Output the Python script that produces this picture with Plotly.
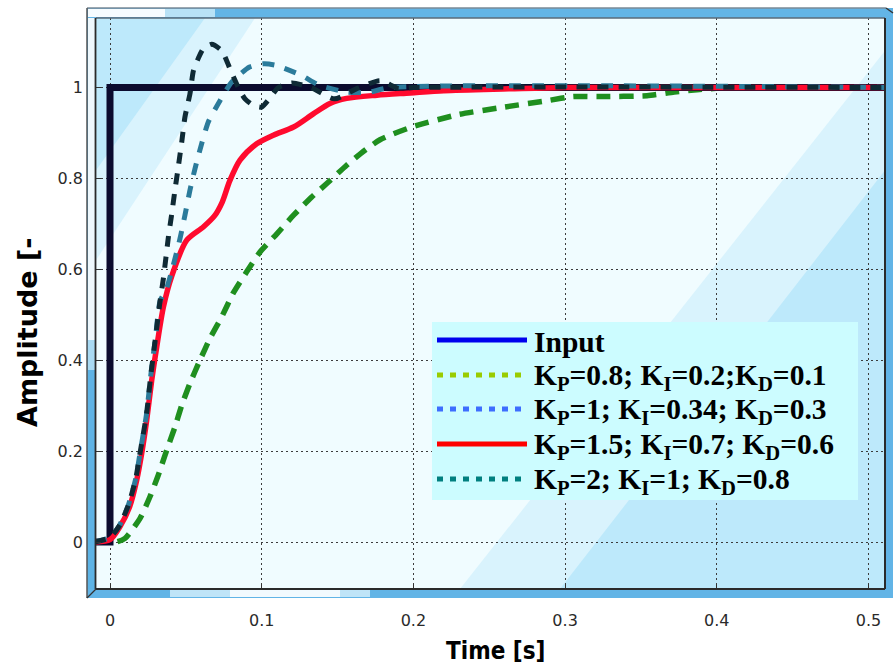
import plotly.graph_objects as go

# ---------------- data ----------------
t_input = [-0.01, 0.0, 0.0, 0.52]
y_input = [0.0, 0.0, 1.0, 1.0]

t_kp08 = [-0.01, 0.004, 0.0099, 0.0198, 0.0264, 0.0318, 0.0374, 0.0428, 0.0473, 0.0527,
          0.0593, 0.0659, 0.0736, 0.0813, 0.09, 0.0989, 0.11, 0.121, 0.133, 0.144, 0.156,
          0.165, 0.178, 0.198, 0.229, 0.26, 0.29, 0.305, 0.323, 0.354, 0.372, 0.387, 0.41, 0.52]
y_kp08 = [0.0, 0.0, 0.008, 0.052, 0.1, 0.147, 0.202, 0.253, 0.301, 0.349,
          0.4, 0.448, 0.495, 0.548, 0.594, 0.638, 0.678, 0.719, 0.759, 0.792, 0.829,
          0.854, 0.885, 0.912, 0.94, 0.957, 0.972, 0.98, 0.98, 0.982, 0.99, 0.995, 1.0, 1.0]

t_kp15 = [-0.01, 0.0, 0.0066, 0.013, 0.0176, 0.0209, 0.0242, 0.0275, 0.0308, 0.0352, 0.0407,
          0.0506, 0.0615, 0.0690, 0.0740, 0.0790, 0.0857, 0.0967, 0.1077, 0.121, 0.134, 0.145,
          0.156, 0.176, 0.198, 0.22, 0.263, 0.3, 0.52]
y_kp15 = [0.0, 0.005, 0.034, 0.078, 0.136, 0.195, 0.268, 0.356, 0.429, 0.517, 0.585,
          0.664, 0.693, 0.718, 0.748, 0.795, 0.84, 0.876, 0.895, 0.913, 0.942, 0.965,
          0.976, 0.983, 0.988, 0.993, 0.997, 1.0, 1.0]

t_kp1 = [-0.01, 0.0, 0.006, 0.012, 0.017, 0.02, 0.024, 0.027, 0.03, 0.033, 0.037, 0.041,
         0.0461, 0.0494, 0.0527, 0.056, 0.0604, 0.0648, 0.0725, 0.0802, 0.092, 0.101, 0.109,
         0.126, 0.138, 0.156, 0.171, 0.185, 0.52]
y_kp1 = [0.0, 0.01, 0.035, 0.08, 0.14, 0.2, 0.28, 0.37, 0.45, 0.53, 0.555, 0.6,
         0.667, 0.719, 0.774, 0.821, 0.876, 0.924, 0.971, 1.012, 1.045, 1.052, 1.049,
         1.027, 1.005, 0.99, 0.99, 1.0, 1.0]

t_kp2 = [-0.01, 0.0, 0.006, 0.012, 0.017, 0.02, 0.024, 0.027, 0.03, 0.033, 0.0352, 0.0385,
         0.0407, 0.0428, 0.045, 0.0473, 0.0494, 0.0527, 0.055, 0.0583, 0.0615, 0.067, 0.0736,
         0.08, 0.0846, 0.089, 0.095, 0.1, 0.105, 0.111, 0.12, 0.133, 0.148, 0.163, 0.178,
         0.19, 0.2, 0.52]
y_kp2 = [0.0, 0.01, 0.035, 0.08, 0.14, 0.2, 0.28, 0.37, 0.45, 0.53, 0.58, 0.671,
         0.722, 0.774, 0.825, 0.88, 0.935, 0.986, 1.037, 1.065, 1.085, 1.095, 1.081,
         1.034, 1.0, 0.975, 0.96, 0.957, 0.975, 1.0, 1.01, 0.999, 0.975, 0.998, 1.015,
         0.998, 1.0, 1.0]

x_ticks = [0, 0.1, 0.2, 0.3, 0.4, 0.5]
x_tick_labels = ["0", "0.1", "0.2", "0.3", "0.4", "0.5"]
y_ticks = [0, 0.2, 0.4, 0.6, 0.8, 1.0]
y_tick_labels = ["0", "0.2", "0.4", "0.6", "0.8", "1"]

legend_labels = [
    "<b>Input</b>",
    "<b>K<sub>P</sub>=0.8; K<sub>I</sub>=0.2;K<sub>D</sub>=0.1</b>",
    "<b>K<sub>P</sub>=1; K<sub>I</sub>=0.34; K<sub>D</sub>=0.3</b>",
    "<b>K<sub>P</sub>=1.5; K<sub>I</sub>=0.7; K<sub>D</sub>=0.6</b>",
    "<b>K<sub>P</sub>=2; K<sub>I</sub>=1; K<sub>D</sub>=0.8</b>",
]
legend_colors = ["#0000ee", "#99cc00", "#3d6dff", "#ff0000", "#007f7f"]
legend_dash = ["solid", "6px,7px", "6px,7px", "solid", "6px,7px"]

# ---------------- layout geometry (pixels) ----------------
W, H = 894, 664
L, R, T, B = 96, 885, 18, 589
XMIN, XMAX = -0.00923, 0.5109
YMIN, YMAX = -0.1034, 1.1529


def px(x):
    return (x - L) / (R - L)


def py(y):
    return (B - y) / (B - T)


fig = go.Figure()

fig.add_trace(go.Scatter(x=t_kp08, y=y_kp08, mode="lines", name="KP=0.8",
                         line=dict(color="#1f8f1f", width=5.5, dash="14px,9px", shape="spline", smoothing=0.6),
                         showlegend=False))
fig.add_trace(go.Scatter(x=t_input, y=y_input, mode="lines", name="Input",
                         line=dict(color="#0b0b2e", width=7), showlegend=False))
fig.add_trace(go.Scatter(x=t_kp15, y=y_kp15, mode="lines", name="KP=1.5",
                         line=dict(color="#ff0a2e", width=5.5, shape="spline", smoothing=0.8),
                         showlegend=False))
fig.add_trace(go.Scatter(x=t_kp1, y=y_kp1, mode="lines", name="KP=1",
                         line=dict(color="#2b7b9b", width=5, dash="12px,11px", shape="spline", smoothing=0.6),
                         showlegend=False))
fig.add_trace(go.Scatter(x=t_kp2, y=y_kp2, mode="lines", name="KP=2",
                         line=dict(color="#0f2a35", width=5, dash="11px,10px", shape="spline", smoothing=0.6),
                         showlegend=False))

shapes = []
blue = "#bde9fb"
# background wedges (data coords, below grid)
shapes.append(dict(type="path", xref="x", yref="y", layer="below", line=dict(width=0),
                   fillcolor=blue, opacity=0.45,
                   path=f"M{XMIN},{YMAX} L0.0956,{YMAX} L{XMIN},0.62 Z"))
shapes.append(dict(type="path", xref="x", yref="y", layer="below", line=dict(width=0),
                   fillcolor=blue, opacity=1,
                   path=f"M{XMIN},{YMAX} L0.0626,{YMAX} L{XMIN},0.818 Z"))
shapes.append(dict(type="path", xref="x", yref="y", layer="below", line=dict(width=0),
                   fillcolor=blue, opacity=0.45,
                   path=f"M0.2307,{YMIN} L{XMAX},{YMIN} L{XMAX},1.081 Z"))
shapes.append(dict(type="path", xref="x", yref="y", layer="below", line=dict(width=0),
                   fillcolor=blue, opacity=1,
                   path=f"M0.2966,{YMIN} L{XMAX},{YMIN} L{XMAX},0.818 Z"))


def rect(x0, y0, x1, y1, fill, line_w=0, line_c="#333"):
    shapes.append(dict(type="rect", xref="paper", yref="paper", layer="above",
                       x0=px(x0), x1=px(x1), y0=py(y1), y1=py(y0), fillcolor=fill,
                       line=dict(width=line_w, color=line_c)))


def seg(x0, y0, x1, y1, color, w):
    shapes.append(dict(type="line", xref="paper", yref="paper", layer="above",
                       x0=px(x0), x1=px(x1), y0=py(y0), y1=py(y1),
                       line=dict(color=color, width=w)))


# frame bars
rect(87, 8, 893, 18, "#63b5e6")
rect(88, 9, 165, 17, "#f6fcff")
rect(165, 9, 215, 17, "#b8e2f6")
rect(87, 18, 96, 598, "#5db3e5")
rect(88, 18, 95, 340, "#eef8fd")
rect(88, 340, 95, 370, "#a9daf3")
rect(87, 589, 893, 598, "#62b4e6")
rect(170, 590, 370, 597, "#bfe4f7")
rect(230, 590, 340, 597, "#f2fafe")
rect(885, 18, 893, 598, "#62b4e6")
# frame lines
seg(87, 8, 886, 8, "#7a8a96", 1.5)
seg(87, 8, 87, 598, "#555", 1.5)
seg(96, 18, 885, 18, "#5a6b78", 1.5)
seg(95.5, 18, 95.5, 589, "#2a2a2a", 1.8)
seg(96, 589, 885, 589, "#2a2a2a", 2)
seg(885, 18, 885, 589, "#2a2a2a", 2)
seg(886, 8, 893, 13, "#333", 1.5)
seg(87, 598, 96, 589, "#333", 1.2)

# custom legend box
legend_rows = [340, 375, 409, 444, 479]
rect(432, 322, 858, 500, "#ccfcff")
annotations = []
for lab, col, dsh, yy in zip(legend_labels, legend_colors, legend_dash, legend_rows):
    shapes.append(dict(type="line", xref="paper", yref="paper", layer="above",
                       x0=px(437), x1=px(527), y0=py(yy), y1=py(yy),
                       line=dict(color=col, width=5, dash=dsh)))
    annotations.append(dict(xref="paper", yref="paper", x=px(532), y=py(yy + 2),
                            xanchor="left", yanchor="middle", showarrow=False, text=lab,
                            font=dict(family="Liberation Serif", size=29.5, color="black")))

# axis titles
annotations.append(dict(xref="paper", yref="paper", x=px(495), y=py(651), xanchor="center",
                        yanchor="middle", showarrow=False, text="<b>Time [s]</b>",
                        font=dict(family="DejaVu Sans Condensed", size=24, color="black")))
annotations.append(dict(xref="paper", yref="paper", x=px(27), y=py(332), xanchor="center",
                        yanchor="middle", showarrow=False, text="<b>Amplitude [-</b>", textangle=-90,
                        font=dict(family="DejaVu Sans", size=27, color="black")))

grid = dict(showgrid=True, gridcolor="#3c3c3c", gridwidth=1.1, griddash="2px,3px",
            zeroline=False, showline=False, ticks="inside", ticklen=5, tickcolor="#333",
            tickfont=dict(family="DejaVu Sans", size=16, color="#2a2a2a"))

fig.update_layout(
    width=W, height=H,
    margin=dict(l=L, r=W - R, t=T, b=H - B, pad=0),
    paper_bgcolor="white",
    plot_bgcolor="#f0fcff",
    showlegend=False,
    shapes=shapes,
    annotations=annotations,
    xaxis=dict(range=[XMIN, XMAX], tickvals=x_ticks, ticktext=x_tick_labels,
               ticklabelstandoff=20, **grid),
    yaxis=dict(range=[YMIN, YMAX], tickvals=y_ticks, ticktext=y_tick_labels,
               ticklabelstandoff=12, **grid),
)

fig.write_html("out.html", config={"displayModeBar": False},
               post_script="document.body.style.margin='0px';document.body.style.overflow='hidden';")
